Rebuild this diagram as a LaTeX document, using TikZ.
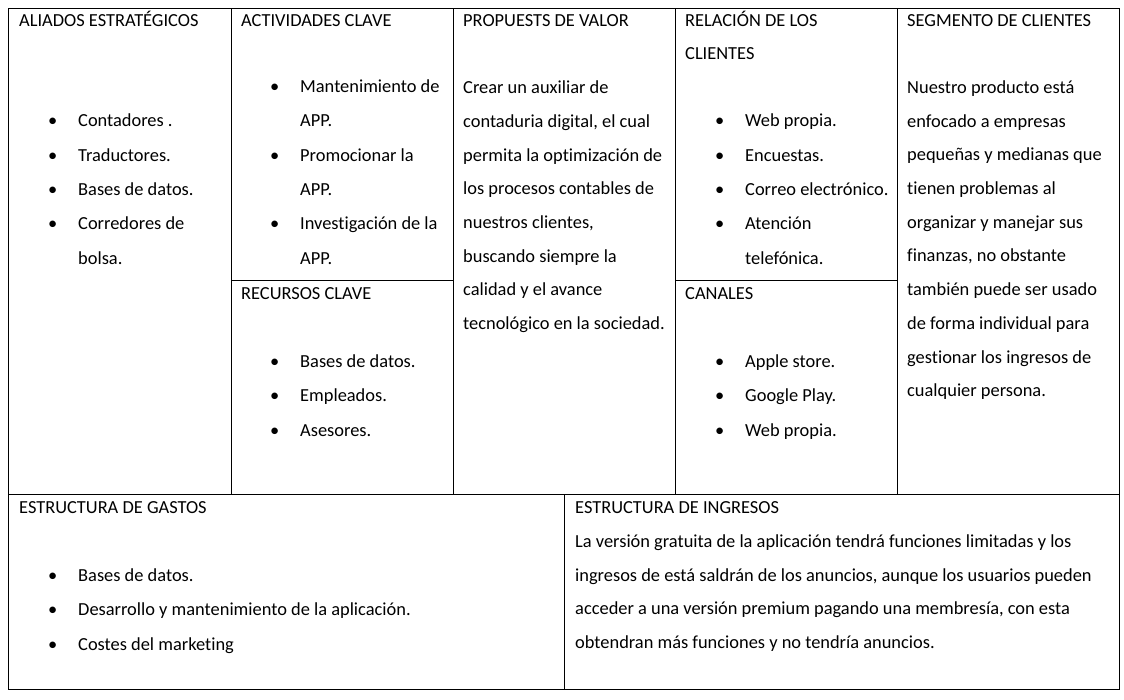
\documentclass[tikz,border=0pt]{standalone}
\usepackage{fontspec}
\setmainfont[Ligatures=NoCommon]{Carlito}
\newcommand{\itm}{\llap{\textbullet\hspace{21pt}}}

\begin{document}
\begin{tikzpicture}[x=1pt, y=-1pt,
	cell/.style={draw, line width=1pt, anchor=north west, inner sep=0pt, outer sep=0pt},
	txt/.style={anchor=base west, inner sep=0pt, align=left, font=\fontsize{18.4}{33.7}\selectfont},
	lst/.style={txt, font=\fontsize{18.4}{34.3}\selectfont}]
	\useasboundingbox (0,0) rectangle (1124,699);

	% Cells of the canvas
	\node [cell, minimum width=223pt, minimum height=486pt] (ali) at (8,8)   {};
	\node [cell, minimum width=222pt, minimum height=272pt] (act) at (231,8) {};
	\node [cell, minimum width=222pt, minimum height=214pt] (rec) at (231,280) {};
	\node [cell, minimum width=222pt, minimum height=486pt] (pro) at (453,8) {};
	\node [cell, minimum width=222pt, minimum height=272pt] (rel) at (675,8) {};
	\node [cell, minimum width=222pt, minimum height=214pt] (can) at (675,280) {};
	\node [cell, minimum width=222pt, minimum height=486pt] (seg) at (897,8) {};
	\node [cell, minimum width=556pt, minimum height=195pt] (gas) at (8,494) {};
	\node [cell, minimum width=555pt, minimum height=195pt] (ing) at (564,494) {};

	% Titles (placed at the baseline of their last line)
	\node [txt] (ali-t) at (19,26)   {ALIADOS ESTRATÉGICOS};
	\node [txt] (act-t) at (241,26)  {ACTIVIDADES CLAVE};
	\node [txt] (rec-t) at (241,299) {RECURSOS CLAVE};
	\node [txt] (pro-t) at (463,26)  {PROPUESTS DE VALOR};
	\node [txt] (rel-t) at (685,59.8) {RELACIÓN DE LOS\\ CLIENTES};
	\node [txt] (can-t) at (685,299) {CANALES};
	\node [txt] (seg-t) at (907,26)  {SEGMENTO DE CLIENTES};
	\node [txt] (gas-t) at (19,513)  {ESTRUCTURA DE GASTOS};
	\node [txt] (ing-t) at (575,513) {ESTRUCTURA DE INGRESOS};

	% Contents (placed at the baseline of their last line)
	\node [lst] (ali-b) at (78,264)
	{\itm Contadores .\\ \itm Traductores.\\ \itm Bases de datos.\\
	 \itm Corredores de\\ bolsa.};
	\node [lst] (act-b) at (300,264)
	{\itm Mantenimiento de\\ APP.\\ \itm Promocionar la\\ APP.\\
	 \itm Investigación de la\\ APP.};
	\node [lst] (rec-b) at (300,436)
	{\itm Bases de datos.\\ \itm Empleados.\\ \itm Asesores.};
	\node [txt] (pro-b) at (463,329.5)
	{Crear un auxiliar de\\ contaduria digital, el cual\\ permita la optimización de\\
	 los procesos contables de\\ nuestros clientes,\\ buscando siempre la\\
	 calidad y el avance\\ tecnológico en la sociedad.};
	\node [lst] (rel-b) at (745,264)
	{\itm Web propia.\\ \itm Encuestas.\\ \itm Correo electrónico.\\
	 \itm Atención\\ telefónica.};
	\node [lst] (can-b) at (745,436)
	{\itm Apple store.\\ \itm Google Play.\\ \itm Web propia.};
	\node [txt] (seg-b) at (907,396.7)
	{Nuestro producto está\\ enfocado a empresas\\ pequeñas y medianas que\\
	 tienen problemas al\\ organizar y manejar sus\\ finanzas, no obstante\\
	 también puede ser usado\\ de forma individual para\\ gestionar los ingresos de\\
	 cualquier persona.};
	\node [lst] (gas-b) at (78,650)
	{\itm Bases de datos.\\ \itm Desarrollo y mantenimiento de la aplicación.\\
	 \itm Costes del marketing};
	\node [txt] (ing-b) at (575,648.4)
	{La versión gratuita de la aplicación tendrá funciones limitadas y los\\
	 ingresos de está saldrán de los anuncios, aunque los usuarios pueden\\
	 acceder a una versión premium pagando una membresía, con esta\\
	 obtendran más funciones y no tendría anuncios.};

\end{tikzpicture}
\end{document}
